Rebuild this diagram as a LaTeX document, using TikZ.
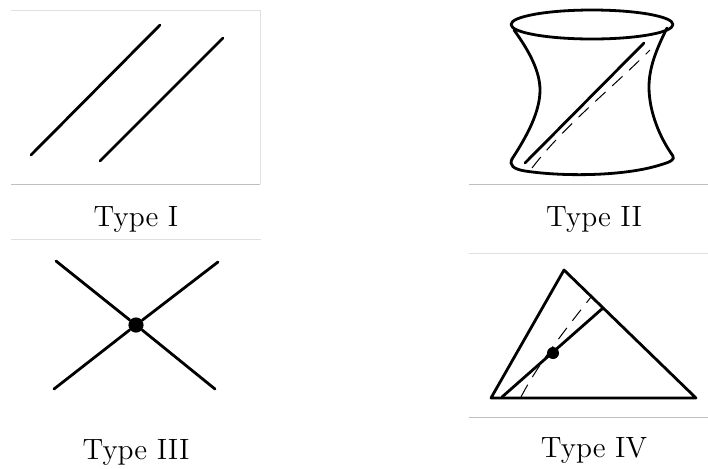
\documentclass[tikz,border=0pt]{standalone}
\tikzset{
 curve/.style={line width=1.4pt,line cap=round,line join=round},
 thin dash/.style={line width=0.5pt,dash pattern=on 7pt off 4.5pt},
 rule/.style={line width=0.5pt,black!25},
 faint/.style={line width=0.5pt,black!12},
 blob/.style={circle,fill=black,inner sep=0pt},
 caption/.style={font=\Large,inner sep=0pt,anchor=base,scale=1.02}
}
\begin{document}
\begin{tikzpicture}[x=0.5pt,y=-0.5pt]
 \useasboundingbox (0,0) rectangle (708,468);
 % separators
 \draw[faint] (11,10.5)--(260,10.5)--(260,184);
 \draw[rule] (11,184.5)--(260,184.5);
 \draw[faint] (11,239)--(261,239);
 \draw[rule] (469,184.5)--(708,184.5);
 \draw[faint] (469,253.5)--(708,253.5);
 \draw[rule] (469,417.5)--(708,417.5);
 % type I
 \draw[curve] (31,155)--(160,25);
 \draw[curve] (100,161)--(223,38);
 \node[caption] (typeI) at (136,226) {Type I};
 % type II
 \draw[curve] (592,24.5) ellipse [x radius=81,y radius=14.5];
 \draw[curve] (514,30) .. controls (530,52) and (540,72) .. (540,90) .. controls (540,112) and (527,136) .. (512,159);
 \draw[curve] (667,28) .. controls (656,50) and (649,68) .. (649,87) .. controls (649,112) and (660,138) .. (673,156);
 \draw[curve] (512,159) .. controls (509,165) and (513,169) .. (525,171) .. controls (565,177) and (625,176) .. (660,165) .. controls (670,162) and (675,160) .. (673,156);
 \draw[curve] (525,163)--(644,43);
 \draw[thin dash] (532,168) .. controls (565,125) and (610,90) .. (650,50);
 \node[caption] (typeII) at (594,226) {Type II};
 % type III
 \node[blob,minimum size=7.6pt] (crossing) at (136,325) {};
 \coordinate (a) at (56,261);
 \coordinate (b) at (215,389);
 \coordinate (c) at (54,389);
 \coordinate (d) at (218,262);
 \draw[curve] (a)--(crossing)--(b);
 \draw[curve] (c)--(crossing)--(d);
 \node[caption] (typeIII) at (136,459) {Type III};
 % type IV
 \draw[curve] (564,270)--(491,398)--(696,398)--cycle;
 \draw[curve] (502,397)--(603,308);
 \draw[thin dash] (521,397) .. controls (538,364) and (565,330) .. (591,297);
 \node[blob,minimum size=6pt] (meet) at (553,353) {};
 \node[caption] (typeIV) at (594,457) {Type IV};
\end{tikzpicture}
\end{document}
